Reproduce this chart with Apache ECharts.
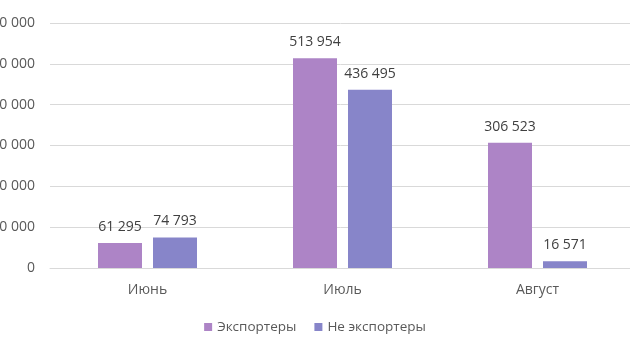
<!DOCTYPE html>
<html>
<head>
<meta charset="utf-8">
<script src="https://cdn.jsdelivr.net/npm/echarts@6/dist/echarts.min.js"></script>
<style>
  html, body { margin: 0; padding: 0; background: #fff; }
  #chart { width: 630px; height: 355px; }
</style>
</head>
<body>
<div id="chart"></div>
<script>
const months = ['Июнь', 'Июль', 'Август'];
const exporters = [61295, 513954, 306523];
const nonExporters = [74793, 436495, 16571];

const fmt = v => String(v).replace(/\B(?=(\d{3})+(?!\d))/g, ' ');
const font = '"Open Sans", sans-serif';

const chart = echarts.init(document.getElementById('chart'));

const labelStyle = {
  show: true,
  position: 'top',
  distance: 9,
  fontFamily: font,
  fontSize: 14,
  color: '#404040',
  formatter: p => fmt(p.value),
};

chart.setOption({
  animation: false,
  textStyle: { fontFamily: font },
  grid: { left: 50, right: -5, top: 23, bottom: 87, containLabel: false, outerBoundsMode: 'none' },
  legend: {
    bottom: 16,
    left: 'center',
    itemWidth: 8,
    itemHeight: 8,
    itemGap: 18,
    icon: 'rect',
    textStyle: { fontFamily: font, fontSize: 13.5, color: '#595959' },
    data: ['Экспортеры', 'Не экспортеры'],
  },
  xAxis: {
    type: 'category',
    data: months,
    axisTick: { show: false },
    axisLine: { lineStyle: { color: '#d9d9d9' } },
    axisLabel: { fontFamily: font, fontSize: 14, color: '#595959', margin: 15 },
  },
  yAxis: {
    type: 'value',
    min: 0,
    max: 600000,
    interval: 100000,
    axisLabel: {
      fontFamily: font,
      fontSize: 14,
      color: '#595959',
      margin: 15,
      formatter: v => fmt(v),
    },
    splitLine: { lineStyle: { color: '#d9d9d9' } },
  },
  series: [
    {
      name: 'Экспортеры',
      type: 'bar',
      data: exporters,
      barWidth: 44,
      barGap: '25%',
      itemStyle: { color: '#ad84c6' },
      label: labelStyle,
    },
    {
      name: 'Не экспортеры',
      type: 'bar',
      data: nonExporters,
      barWidth: 44,
      itemStyle: { color: '#8785c9' },
      label: labelStyle,
    },
  ],
});
</script>
</body>
</html>
